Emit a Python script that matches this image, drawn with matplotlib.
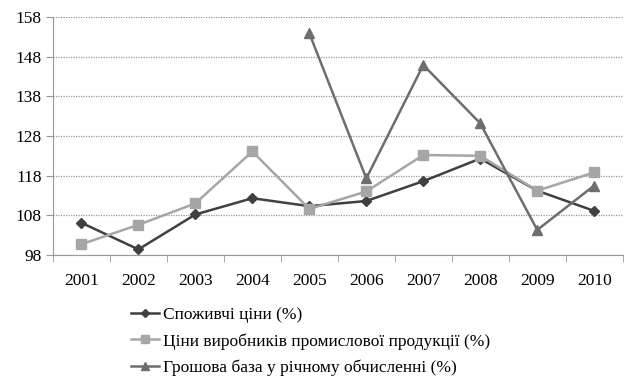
import numpy as np
import matplotlib
matplotlib.use("Agg")
import matplotlib.pyplot as plt

# ─── Data ─────────────────────────────────────────────
years = ["2001", "2002", "2003", "2004", "2005", "2006", "2007", "2008", "2009", "2010"]
cpi = [106.1, 99.4, 108.2, 112.3, 110.3, 111.6, 116.6, 122.3, 114.2, 109.1]
ppi = [100.7, 105.6, 111.0, 124.1, 109.6, 114.0, 123.2, 123.0, 114.2, 118.8]
money_base = [np.nan, np.nan, np.nan, np.nan, 153.9, 117.3, 145.9, 131.2, 104.3, 115.5]

labels = ["Споживчі ціни (%)",
          "Ціни виробників промислової продукції (%)",
          "Грошова база у річному обчисленні (%)"]
colors = ["#404040", "#a6a6a6", "#6e6e6e"]
markers = ["D", "s", "^"]
msizes = [5, 7, 7.5]
yticks = [98, 108, 118, 128, 138, 148, 158]

plt.rcParams["font.family"] = ["Liberation Serif", "DejaVu Serif"]

fig = plt.figure(figsize=(6.38, 3.88), dpi=100)
ax = fig.add_axes([0.083, 0.343, 0.893, 0.613])

x = np.arange(len(years))
for vals, lab, c, m, ms in zip([cpi, ppi, money_base], labels, colors, markers, msizes):
    ax.plot(x, vals, color=c, marker=m, markersize=ms, linewidth=1.8,
            markeredgecolor=c, label=lab)

ax.set_xlim(-0.5, len(years) - 0.5)
ax.set_ylim(98, 158)
ax.set_yticks(yticks)
ax.set_yticklabels([str(t) for t in yticks], fontsize=12.5)
ax.set_xticks(x)
ax.set_xticklabels(years, fontsize=12.5)
ax.set_xticks(np.arange(-0.5, len(years)), minor=True)
ax.tick_params(axis="x", which="major", length=0, pad=13)
ax.tick_params(axis="x", which="minor", length=5, color="#999999")
ax.tick_params(axis="y", length=5, color="#999999", pad=3)

ax.grid(True, axis="y", color="#999999", linestyle=(0, (1, 1)), linewidth=0.9)
for s in ["top", "right"]:
    ax.spines[s].set_visible(False)
ax.spines["left"].set_color("#999999")
ax.spines["bottom"].set_color("#999999")

fig.legend(loc="upper left", bbox_to_anchor=(0.195, 0.228), frameon=False,
           fontsize=12.5, handlelength=1.6, handletextpad=0.2, labelspacing=0.6,
           borderaxespad=0, markerscale=0.75)

fig.savefig("out.png", dpi=100)
